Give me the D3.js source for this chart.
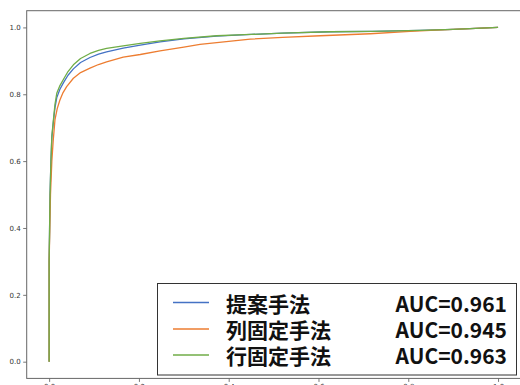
<!DOCTYPE html>
<html>
<head>
<meta charset="utf-8">
<script src="https://cdn.jsdelivr.net/npm/d3@7/dist/d3.min.js"></script>
<style>
  html, body { margin: 0; padding: 0; background: #fff; }
  svg { display: block; overflow: hidden; }
</style>
</head>
<body>
<svg id="chart" width="520" height="385"></svg>
<script>
// ROC curves: false positive rate vs true positive rate
const methods = ["提案手法", "列固定手法", "行固定手法"];
const aucLabels = ["AUC=0.961", "AUC=0.945", "AUC=0.963"];
const colors = ["#4472c4", "#ed7d31", "#70ad47"];

const fprProposed = [0, 0, 0.002, 0.004, 0.006, 0.0096, 0.013, 0.017, 0.024, 0.032, 0.042, 0.054, 0.07, 0.091, 0.11, 0.128, 0.165, 0.203, 0.247, 0.3, 0.373, 0.45, 0.52, 0.626, 0.72, 0.826, 0.9, 1];
const tprProposed = [0, 0.3, 0.5, 0.6, 0.67, 0.72, 0.76, 0.79, 0.815, 0.835, 0.857, 0.876, 0.895, 0.91, 0.92, 0.927, 0.938, 0.947, 0.957, 0.966, 0.974, 0.979, 0.983, 0.987, 0.988, 0.991, 0.994, 1];

const fprRowFixed = [0, 0, 0.002, 0.004, 0.006, 0.0096, 0.013, 0.017, 0.024, 0.032, 0.042, 0.054, 0.07, 0.091, 0.11, 0.128, 0.165, 0.203, 0.247, 0.3, 0.373, 0.45, 0.52, 0.626, 0.72, 0.826, 0.9, 1];
const tprRowFixed = [0, 0.3, 0.5, 0.6, 0.675, 0.724, 0.77, 0.803, 0.826, 0.845, 0.868, 0.888, 0.907, 0.922, 0.931, 0.937, 0.945, 0.952, 0.96, 0.967, 0.975, 0.979, 0.983, 0.987, 0.988, 0.991, 0.994, 1];

const fprColFixed = [0, 0, 0.003, 0.006, 0.009, 0.013, 0.018, 0.024, 0.031, 0.039, 0.054, 0.07, 0.091, 0.11, 0.128, 0.165, 0.203, 0.247, 0.3, 0.336, 0.4, 0.448, 0.52, 0.604, 0.715, 0.804, 0.85, 0.9, 1];
const tprColFixed = [0, 0.3, 0.5, 0.6, 0.66, 0.724, 0.757, 0.783, 0.805, 0.823, 0.848, 0.865, 0.878, 0.889, 0.897, 0.911, 0.919, 0.93, 0.941, 0.949, 0.958, 0.965, 0.97, 0.975, 0.981, 0.988, 0.991, 0.994, 1];

const axisTicks = [0, 0.2, 0.4, 0.6, 0.8, 1.0];

const series = [
  { fpr: fprProposed, tpr: tprProposed },
  { fpr: fprColFixed, tpr: tprColFixed },
  { fpr: fprRowFixed, tpr: tprRowFixed }
];

const svg = d3.select("#chart");
const plotLeft = 26.7, plotRight = 520.5, plotTop = 10.7, plotBottom = 378.4;

const x = d3.scaleLinear().domain([-0.05, 1.05]).range([plotLeft, plotRight]);
const y = d3.scaleLinear().domain([-0.05, 1.05]).range([plotBottom, plotTop]);

// curves
const line = d3.line().x(d => x(d[0])).y(d => y(d[1]));
series.forEach((s, i) => {
  const pts = s.fpr.map((f, k) => [f, s.tpr[k]]);
  svg.append("path")
    .datum(pts)
    .attr("fill", "none")
    .attr("stroke", colors[i])
    .attr("stroke-width", 1.3)
    .attr("stroke-linejoin", "round")
    .attr("d", line);
});

// axes
const fmt = d3.format(".1f");
const yAxis = svg.append("g")
  .attr("transform", `translate(${plotLeft},0)`)
  .call(d3.axisLeft(y).tickValues(axisTicks).tickFormat(fmt).tickSizeOuter(0).tickSize(3.5).tickPadding(2.5));
const xAxis = svg.append("g")
  .attr("transform", `translate(0,${plotBottom})`)
  .call(d3.axisBottom(x).tickValues(axisTicks).tickFormat(fmt).tickSizeOuter(0).tickSize(3.5).tickPadding(2.5));
[xAxis, yAxis].forEach(g => {
  g.select(".domain").remove();
  g.selectAll(".tick line").attr("stroke", "#555").attr("stroke-width", 0.8);
  g.selectAll(".tick text").attr("fill", "#333")
    .style("font-family", "DejaVu Sans").style("font-size", "7px");
});

// frame
svg.append("rect")
  .attr("x", plotLeft).attr("y", plotTop)
  .attr("width", plotRight - plotLeft).attr("height", plotBottom - plotTop)
  .attr("fill", "none").attr("stroke", "#666").attr("stroke-width", 1);

// legend
const legend = svg.append("g");
legend.append("rect")
  .attr("x", 157.5).attr("y", 283.5).attr("width", 359).attr("height", 91.5)
  .attr("fill", "#fff").attr("stroke", "#333").attr("stroke-width", 1);
const rowY = [302.5, 329, 355];
methods.forEach((m, i) => {
  legend.append("line")
    .attr("x1", 173).attr("x2", 209).attr("y1", rowY[i]).attr("y2", rowY[i])
    .attr("stroke", colors[i]).attr("stroke-width", 1.6);
  legend.append("text")
    .attr("x", 226).attr("y", rowY[i])
    .attr("dominant-baseline", "central")
    .style("font-family", "'Noto Sans CJK JP'").style("font-weight", 700)
    .style("font-size", "21px").attr("fill", "#111")
    .text(m);
  legend.append("text")
    .attr("x", 507).attr("y", rowY[i])
    .attr("text-anchor", "end")
    .attr("dominant-baseline", "central")
    .style("font-family", "'Noto Sans CJK JP'").style("font-weight", 700)
    .style("font-size", "21px").attr("fill", "#111")
    .text(aucLabels[i]);
});
</script>
</body>
</html>
